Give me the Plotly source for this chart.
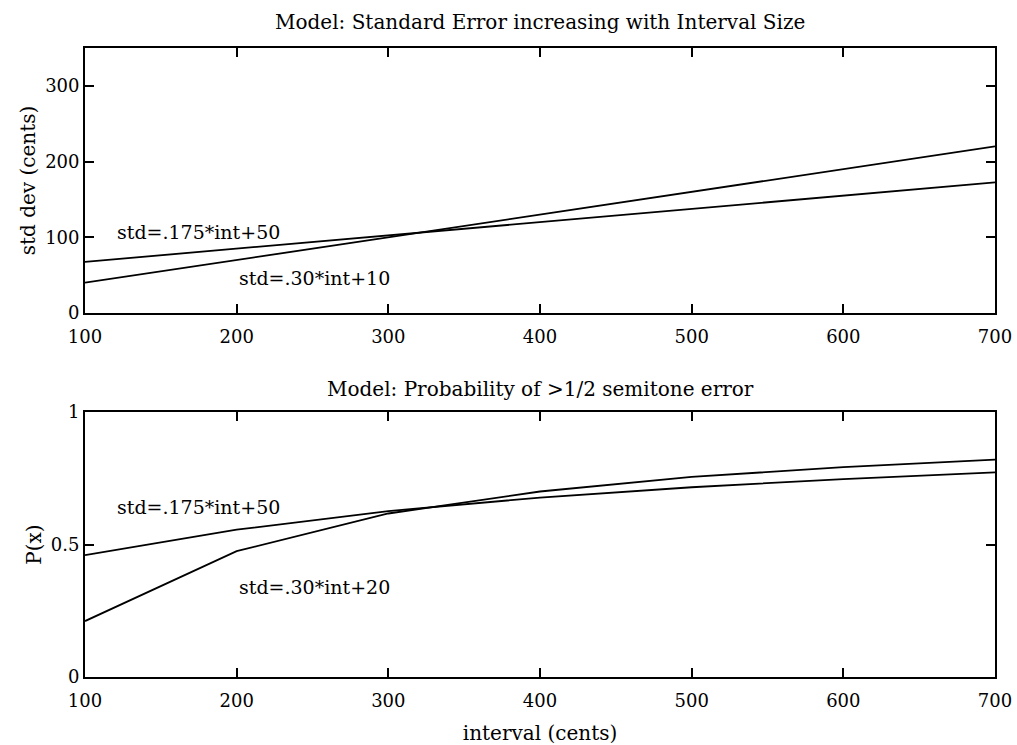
import plotly.graph_objects as go

intervals = [100, 200, 300, 400, 500, 600, 700]
std_a = [67.5, 85, 102.5, 120, 137.5, 155, 172.5]      # std=.175*int+50
std_b = [40, 70, 100, 130, 160, 190, 220]             # std=.30*int+10
p_a = [0.46, 0.556, 0.626, 0.677, 0.716, 0.747, 0.772]
p_b = [0.211, 0.475, 0.617, 0.70, 0.755, 0.792, 0.82]

top_title = "Model: Standard Error increasing with Interval Size"
bot_title = "Model: Probability of >1/2 semitone error"
x_ticks = [100, 200, 300, 400, 500, 600, 700]
top_yticks = [0, 100, 200, 300]
bot_yticks = [0, 0.5, 1]
bot_ytext = ["0", "0.5", "1"]

FONT = "DejaVu Serif"
FS_TICK = 18
FS_ANN = 19
FS_TITLE = 20
fig = go.Figure()
line = dict(color="black", width=1.8)
fig.add_trace(go.Scatter(x=intervals, y=std_a, mode="lines", line=line, xaxis="x", yaxis="y", showlegend=False))
fig.add_trace(go.Scatter(x=intervals, y=std_b, mode="lines", line=line, xaxis="x", yaxis="y", showlegend=False))
fig.add_trace(go.Scatter(x=intervals, y=p_a, mode="lines", line=line, xaxis="x2", yaxis="y2", showlegend=False))
fig.add_trace(go.Scatter(x=intervals, y=p_b, mode="lines", line=line, xaxis="x2", yaxis="y2", showlegend=False))

# body margin is removed in the page, so the figure fills the window
W, H = 1017, 745
L, R, T, B1, T2, B = 85, 995, 48, 313, 412, 677
ph = B - T
top_dom = [(B - B1) / ph, 1.0]
bot_dom = [0.0, (B - T2) / ph]

ax_common = dict(showline=True, linecolor="black", linewidth=1.8, mirror="ticks",
                 ticks="inside", ticklen=9, tickwidth=1.5, tickcolor="black",
                 showgrid=False, zeroline=False, automargin=False,
                 ticklabeloverflow="allow",
                 tickfont=dict(family=FONT, size=FS_TICK, color="black"))

fig.update_layout(
    width=W, height=H,
    margin=dict(l=L, r=W - R, t=T, b=H - B, autoexpand=False),
    paper_bgcolor="white", plot_bgcolor="white",
    font=dict(family=FONT, size=FS_TICK, color="black"),
    xaxis=dict(domain=[0, 1], range=[100, 700], tickvals=x_ticks, anchor="y",
               ticklabelstandoff=6, **ax_common),
    yaxis=dict(domain=top_dom, range=[0, 350], tickvals=top_yticks, anchor="x",
               title=dict(text="std dev (cents)", font=dict(family=FONT, size=FS_TITLE), standoff=4), **ax_common),
    xaxis2=dict(domain=[0, 1], range=[100, 700], tickvals=x_ticks, anchor="y2", ticklabelstandoff=6,
                title=dict(text="interval (cents)", font=dict(family=FONT, size=FS_TITLE), standoff=20), **ax_common),
    yaxis2=dict(domain=bot_dom, range=[0, 1], tickvals=bot_yticks, ticktext=bot_ytext, anchor="x2",
                title=dict(text="P(x)", font=dict(family=FONT, size=FS_TITLE), standoff=4), **ax_common),
    annotations=[
        dict(text=top_title, xref="paper", yref="paper", x=0.5, y=1, yshift=12, yanchor="bottom",
             showarrow=False, font=dict(family=FONT, size=FS_TITLE)),
        dict(text=bot_title, xref="paper", yref="paper", x=0.5, y=bot_dom[1], yshift=9, yanchor="bottom",
             showarrow=False, font=dict(family=FONT, size=FS_TITLE)),
        dict(text="std=.175*int+50", xref="x", yref="y", x=120, y=107, xanchor="left", yanchor="middle",
             showarrow=False, font=dict(family=FONT, size=FS_ANN)),
        dict(text="std=.30*int+10", xref="x", yref="y", x=200, y=46, xanchor="left", yanchor="middle",
             showarrow=False, font=dict(family=FONT, size=FS_ANN)),
        dict(text="std=.175*int+50", xref="x2", yref="y2", x=120, y=0.64, xanchor="left", yanchor="middle",
             showarrow=False, font=dict(family=FONT, size=FS_ANN)),
        dict(text="std=.30*int+20", xref="x2", yref="y2", x=200, y=0.34, xanchor="left", yanchor="middle",
             showarrow=False, font=dict(family=FONT, size=FS_ANN)),
    ],
)
fig.write_html("out.html", config={"displayModeBar": False},
               post_script="document.body.style.margin='0';document.body.style.overflow='hidden';")
